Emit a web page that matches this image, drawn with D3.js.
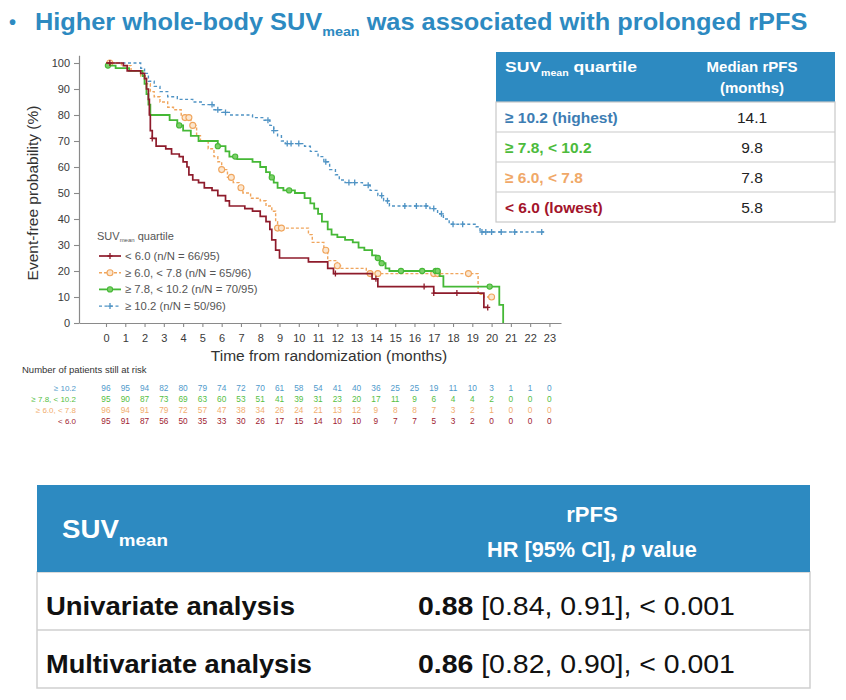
<!DOCTYPE html>
<html><head><meta charset="utf-8">
<script src="https://cdn.jsdelivr.net/npm/d3@7"></script>
<style>
body{margin:0;background:#fff;}
svg{display:block;font-family:"Liberation Sans",Arial,Helvetica,sans-serif;}
</style>
</head><body>
<svg id="c" width="846" height="700"></svg>
<script>
// ---------------- DATA ----------------
const xTicks = d3.range(0, 24);
const yTicks = [0, 10, 20, 30, 40, 50, 60, 70, 80, 90, 100];

const groupKeys = ["high", "q3", "q2", "low"];
const riskLabels = ["≥ 10.2", "≥ 7.8, < 10.2", "≥ 6.0, < 7.8", "< 6.0"];
const legendKeys = ["low", "q2", "q3", "high"];
const legendLabels = ["< 6.0 (n/N = 66/95)", "≥ 6.0, < 7.8 (n/N = 65/96)", "≥ 7.8, < 10.2 (n/N = 70/95)", "≥ 10.2 (n/N = 50/96)"];

// Kaplan-Meier step change points [month, event-free %]
const stepsHigh = [[0,100],[1.8,98],[2.0,96],[2.2,93],[2.5,91],[2.8,89],[3.2,87],[3.7,86],[4.5,85],[5.0,84],[5.6,82],[6.0,81],[6.4,80],[7.6,79],[8.2,78],[8.5,76],[8.7,74],[8.9,72],[9.1,70],[9.3,69],[10.3,68],[10.6,66],[11.0,64],[11.3,62],[11.6,59],[11.9,57],[12.1,55],[12.4,54],[13.3,53],[13.7,51],[14.1,49],[14.4,47],[14.7,45],[16.8,44],[17.2,42],[17.5,40],[17.8,38],[19.2,37],[19.4,35]];
const endHigh = 22.7;
const stepsQ3 = [[0,99],[0.5,98],[1.2,97],[1.9,95],[2.0,92],[2.1,88],[2.2,84],[2.3,80],[3.3,78],[3.7,76],[4.0,74],[4.4,72],[4.8,70],[5.8,68],[6.2,66],[6.4,64],[6.8,63],[7.6,62],[8.0,60],[8.3,58],[8.5,56],[8.7,54],[8.9,52],[9.2,51],[9.8,50],[10.3,48],[10.6,46],[10.8,44],[11.0,42],[11.2,39],[11.5,36],[11.7,34],[12.0,33],[12.4,32],[12.8,31],[13.1,29],[13.4,28],[13.8,26],[14.0,25],[14.2,23],[14.5,21],[14.7,20],[17.3,18],[17.5,14],[20.4,7],[20.6,0]];
const endQ3 = 20.6;
const stepsQ2 = [[0,100],[0.8,99],[1.3,97],[1.8,95],[2.1,92],[2.3,89],[2.5,87],[2.8,85],[3.2,83],[3.5,82],[3.9,80],[4.1,79],[4.4,76],[4.7,72],[4.9,70],[5.3,67],[5.6,64],[5.8,62],[6.0,59],[6.3,56],[6.6,54],[6.9,52],[7.1,50],[7.5,48],[8.0,47],[8.3,45],[8.6,43],[8.8,39],[8.9,36.5],[10.5,34],[10.7,31],[11.3,28],[11.5,24],[12.0,22],[12.2,21],[13.5,19],[19.3,11],[19.6,10]];
const endQ2 = 20.0;
const stepsLow = [[0,100],[0.9,99],[1.1,97],[1.8,96],[2.0,94],[2.1,90],[2.2,86],[2.25,80],[2.3,74],[2.4,71],[2.6,68],[3.1,67],[3.4,65],[3.8,64],[4.0,62],[4.2,60],[4.3,57],[4.5,55],[4.8,54],[5.1,52],[5.5,51],[5.8,49],[6.2,47],[6.4,45],[7.2,44],[7.6,43],[8.0,41],[8.3,39],[8.5,36],[8.6,32],[8.8,28],[9.0,25],[10.5,23.5],[11.5,21],[11.8,19],[13.8,17],[14.1,14],[17.0,11.5],[19.6,6]];
const endLow = 19.8;

// censoring times (months)
const censorHigh = [5.5,5.8,6.2,8.4,8.7,9.4,9.6,10.0,11.4,12.6,12.9,13.6,14.3,14.6,15.5,16.1,16.6,17.0,17.4,18.0,18.5,19.5,19.7,20.0,20.5,21.2,22.6];
const censorQ3 = [0.1,3.8,5.8,6.7,8.6,9.5,14.1,14.3,15.3,16.4,17.1,17.2,19.9];
const censorQ2 = [0.2,4.1,4.3,4.5,6.0,6.5,7.0,8.9,9.1,11.4,12.0,13.7,14.1,17.0,17.2,18.8,20.0];
const censorLow = [0.2,2.4,11.9,14.0,16.5,17.0,18.2,19.8];

// numbers at risk
const riskHigh = [96,95,94,82,80,79,74,72,70,61,58,54,41,40,36,25,25,19,11,10,3,1,1,0];
const riskQ3   = [95,90,87,73,69,63,60,53,51,41,39,31,23,20,17,11,9,6,4,4,2,0,0,0];
const riskQ2   = [96,94,91,79,72,57,47,38,34,26,24,21,13,12,9,8,8,7,3,2,1,0,0,0];
const riskLow  = [95,91,87,56,50,35,33,30,26,17,15,14,10,10,9,7,7,5,3,2,0,0,0,0];

// median table
const medianLabels = ["≥ 10.2 (highest)", "≥ 7.8, < 10.2", "≥ 6.0, < 7.8", "< 6.0 (lowest)"];
const medianKeys = ["high", "q3", "q2", "low"];
const medianValues = [14.1, 9.8, 7.8, 5.8];

// HR table
const hrLabels = ["Univariate analysis", "Multivariate analysis"];
const hrValues = [0.88, 0.86];
const hrLow = [0.84, 0.82];
const hrHigh = [0.91, 0.90];
const hrP = ["< 0.001", "< 0.001"];

// ---------------- STYLE ----------------
const series = {
  high: {steps: stepsHigh, end: endHigh, censor: censorHigh, risk: riskHigh},
  q3:   {steps: stepsQ3, end: endQ3, censor: censorQ3, risk: riskQ3},
  q2:   {steps: stepsQ2, end: endQ2, censor: censorQ2, risk: riskQ2},
  low:  {steps: stepsLow, end: endLow, censor: censorLow, risk: riskLow}
};
const style = {
  high: {color: "#4f93c4", dash: "3,2.5", width: 1.4, mark: "plus", text: "#3d7db3", risk: "#4f9acb"},
  q3:   {color: "#45b836", dash: null, width: 1.8, mark: "dot", text: "#4cbb3c", risk: "#55c043"},
  q2:   {color: "#f0a55c", dash: "3,2", width: 1.4, mark: "circle", text: "#f0a868", risk: "#f1ad6e"},
  low:  {color: "#8e1b2b", dash: null, width: 1.7, mark: "plus", text: "#a3142b", risk: "#a01b30"}
};
const BLUE = "#2d8ac1";

const svg = d3.select("#c");
svg.append("rect").attr("width", 846).attr("height", 700).attr("fill", "#fff");

function fit(sel, target) {
  const node = sel.node();
  const b = node.getBBox();
  const k = target / b.width;
  const anchor = sel.attr("text-anchor");
  const cx = anchor === "middle" ? b.x + b.width / 2 : (anchor === "end" ? b.x + b.width : b.x);
  sel.attr("transform", `translate(${cx},0) scale(${k},1) translate(${-cx},0)`);
}

// ---------------- TITLE ----------------
svg.append("text").attr("x", 9).attr("y", 29).attr("font-size", 20).attr("font-weight", "bold")
  .attr("fill", BLUE).text("•");
const title = svg.append("text").attr("x", 35).attr("y", 30).attr("font-size", 23)
  .attr("font-weight", "bold").attr("fill", BLUE);
title.append("tspan").text("Higher whole-body SUV");
title.append("tspan").attr("font-size", 13).attr("dy", 6).text("mean");
title.append("tspan").attr("dy", -6).text(" was associated with prolonged rPFS");
fit(title, 773);

// ---------------- KM CHART ----------------
const x = d3.scaleLinear().domain([-1.4, 23.6]).range([79, 561]);
const y = d3.scaleLinear().domain([0, 103]).range([323, 55.2]);

const gx = svg.append("g").attr("transform", "translate(0,323)")
  .call(d3.axisBottom(x).tickValues(xTicks).tickSize(4).tickPadding(7).tickSizeOuter(0));
const gy = svg.append("g").attr("transform", "translate(79,0)")
  .call(d3.axisLeft(y).tickValues(yTicks).tickSize(5).tickPadding(4).tickSizeOuter(0));
[gx, gy].forEach(g => {
  g.select(".domain").attr("stroke", "#8a8a8a").attr("stroke-width", 1.2);
  g.selectAll(".tick line").attr("stroke", "#8a8a8a").attr("stroke-width", 1.1);
  g.selectAll(".tick text").attr("fill", "#3a3a3a").attr("font-size", 11)
    .attr("font-family", "Liberation Sans, Arial, sans-serif");
});

svg.append("text").attr("transform", "translate(38,193) rotate(-90)").attr("text-anchor", "middle")
  .attr("font-size", 15.5).attr("fill", "#333").text("Event-free probability (%)");
svg.append("text").attr("x", 329).attr("y", 361).attr("text-anchor", "middle")
  .attr("font-size", 15.5).attr("fill", "#333").text("Time from randomization (months)");

function survAt(steps, t) {
  let v = steps[0][1];
  for (const s of steps) { if (s[0] <= t) v = s[1]; else break; }
  return v;
}

const line = d3.line().x(d => x(d[0])).y(d => y(d[1])).curve(d3.curveStepAfter);

function drawMark(g, key, cx, cy) {
  const st = style[key];
  if (st.mark === "plus") {
    g.append("path").attr("d", `M${cx - 2.5},${cy}h5M${cx},${cy - 3}v6`)
      .attr("stroke", st.color).attr("stroke-width", 1.3).attr("fill", "none");
  } else if (st.mark === "circle") {
    g.append("circle").attr("cx", cx).attr("cy", cy).attr("r", 3)
      .attr("fill", "#fbe6cf").attr("stroke", st.color).attr("stroke-width", 1.1);
  } else {
    g.append("circle").attr("cx", cx).attr("cy", cy).attr("r", 2.6)
      .attr("fill", "#7ccf69").attr("stroke", st.color).attr("stroke-width", 1.1);
  }
}

const curves = svg.append("g");
["high", "q2", "q3", "low"].forEach(key => {
  const s = series[key], st = style[key];
  const pts = s.steps.concat([[s.end, s.steps[s.steps.length - 1][1]]]);
  const p = curves.append("path").datum(pts).attr("d", line).attr("fill", "none")
    .attr("stroke", st.color).attr("stroke-width", st.width).attr("stroke-linejoin", "miter");
  if (st.dash) p.attr("stroke-dasharray", st.dash);
  const mg = curves.append("g");
  s.censor.forEach(t => drawMark(mg, key, x(t), y(survAt(s.steps, t))));
});

// legend
const lg = svg.append("g");
const lt = lg.append("text").attr("x", 97).attr("y", 240).attr("font-size", 11).attr("fill", "#555");
lt.append("tspan").text("SUV");
lt.append("tspan").attr("font-size", 6).attr("dy", 2).text("mean");
lt.append("tspan").attr("dy", -2).text(" quartile");
legendKeys.forEach((key, i) => {
  const cy = 256 + i * 16.7, st = style[key];
  const l = lg.append("line").attr("x1", 99).attr("x2", 121).attr("y1", cy).attr("y2", cy)
    .attr("stroke", st.color).attr("stroke-width", st.width);
  if (st.dash) l.attr("stroke-dasharray", st.dash);
  drawMark(lg, key, 110, cy);
  lg.append("text").attr("x", 125).attr("y", cy + 4).attr("font-size", 11.3).attr("fill", "#555")
    .text(legendLabels[i]);
});

// ---------------- AT RISK ----------------
svg.append("text").attr("x", 22).attr("y", 373).attr("font-size", 9.5).attr("fill", "#333")
  .text("Number of patients still at risk");
groupKeys.forEach((key, i) => {
  const yy = 391 + i * 11;
  svg.append("text").attr("x", 76).attr("y", yy).attr("text-anchor", "end").attr("font-size", 8)
    .attr("fill", style[key].risk).text(riskLabels[i]);
  svg.append("g").selectAll("text").data(series[key].risk).join("text")
    .attr("x", (d, j) => x(xTicks[j])).attr("y", yy).attr("text-anchor", "middle")
    .attr("font-size", 8.3).attr("fill", style[key].risk).text(d => d);
});

// ---------------- MEDIAN TABLE ----------------
const T = {x0: 496, x1: 835, h0: 52, h1: 102, rh: 30, cx: 752};
const mt = svg.append("g");
mt.append("rect").attr("x", T.x0).attr("y", T.h0).attr("width", T.x1 - T.x0).attr("height", T.h1 - T.h0)
  .attr("fill", BLUE);
mt.append("rect").attr("x", T.x0).attr("y", T.h1).attr("width", T.x1 - T.x0)
  .attr("height", T.rh * medianLabels.length).attr("fill", "#fff").attr("stroke", "#c9c9c9").attr("stroke-width", 1.2);
const mh = mt.append("text").attr("x", 505).attr("y", 72).attr("font-size", 15).attr("font-weight", "bold").attr("fill", "#fff");
mh.append("tspan").text("SUV");
mh.append("tspan").attr("font-size", 9).attr("dy", 4).text("mean");
mh.append("tspan").attr("dy", -4).text(" quartile");
fit(mh, 132);
mt.append("text").attr("x", T.cx).attr("y", 72).attr("text-anchor", "middle").attr("font-size", 15)
  .attr("font-weight", "bold").attr("fill", "#fff").text("Median rPFS");
mt.append("text").attr("x", T.cx).attr("y", 93).attr("text-anchor", "middle").attr("font-size", 15)
  .attr("font-weight", "bold").attr("fill", "#fff").text("(months)");
medianLabels.forEach((lab, i) => {
  const top = T.h1 + i * T.rh;
  if (i > 0) mt.append("line").attr("x1", T.x0).attr("x2", T.x1).attr("y1", top).attr("y2", top)
    .attr("stroke", "#c9c9c9").attr("stroke-width", 1.2);
  mt.append("text").attr("x", 505).attr("y", top + 21).attr("font-size", 15.5).attr("font-weight", "bold")
    .attr("fill", style[medianKeys[i]].text).text(lab);
  mt.append("text").attr("x", T.cx).attr("y", top + 21).attr("text-anchor", "middle").attr("font-size", 15.5)
    .attr("fill", "#222").text(d3.format(".1f")(medianValues[i]));
});

// ---------------- HR TABLE ----------------
const H = {x0: 37, x1: 810, h0: 485, h1: 572, rh: 58, cx: 592};
const ht = svg.append("g");
ht.append("rect").attr("x", H.x0).attr("y", H.h1).attr("width", H.x1 - H.x0).attr("height", H.rh * 2)
  .attr("fill", "#fff").attr("stroke", "#cfcfcf").attr("stroke-width", 1.5);
ht.append("rect").attr("x", H.x0).attr("y", H.h0).attr("width", H.x1 - H.x0).attr("height", H.h1 - H.h0)
  .attr("fill", BLUE);
ht.append("line").attr("x1", H.x0).attr("x2", H.x1).attr("y1", H.h1 + H.rh).attr("y2", H.h1 + H.rh)
  .attr("stroke", "#cfcfcf").attr("stroke-width", 1.5);
const hh = ht.append("text").attr("x", 62).attr("y", 538).attr("font-size", 25).attr("font-weight", "bold").attr("fill", "#fff");
hh.append("tspan").text("SUV");
hh.append("tspan").attr("font-size", 17).attr("dy", 8).text("mean");
fit(hh, 106);
ht.append("text").attr("x", H.cx).attr("y", 522).attr("text-anchor", "middle").attr("font-size", 22)
  .attr("font-weight", "bold").attr("fill", "#fff").text("rPFS");
const hr2 = ht.append("text").attr("x", H.cx).attr("y", 557).attr("text-anchor", "middle").attr("font-size", 22)
  .attr("font-weight", "bold").attr("fill", "#fff");
hr2.append("tspan").text("HR [95% CI], ");
hr2.append("tspan").attr("font-style", "italic").text("p");
hr2.append("tspan").text(" value");
fit(hr2, 210);
const labelWidths = [249, 266];
hrLabels.forEach((lab, i) => {
  const by = H.h1 + i * H.rh + 43;
  const a = ht.append("text").attr("x", 46).attr("y", by).attr("font-size", 25).attr("font-weight", "bold")
    .attr("fill", "#111").text(lab);
  fit(a, labelWidths[i]);
  const b = ht.append("text").attr("x", 418).attr("y", by).attr("font-size", 25).attr("fill", "#111");
  b.append("tspan").attr("font-weight", "bold").text(d3.format(".2f")(hrValues[i]));
  b.append("tspan").text(` [${d3.format(".2f")(hrLow[i])}, ${d3.format(".2f")(hrHigh[i])}], ${hrP[i]}`);
  fit(b, 317);
});
</script>
</body></html>
